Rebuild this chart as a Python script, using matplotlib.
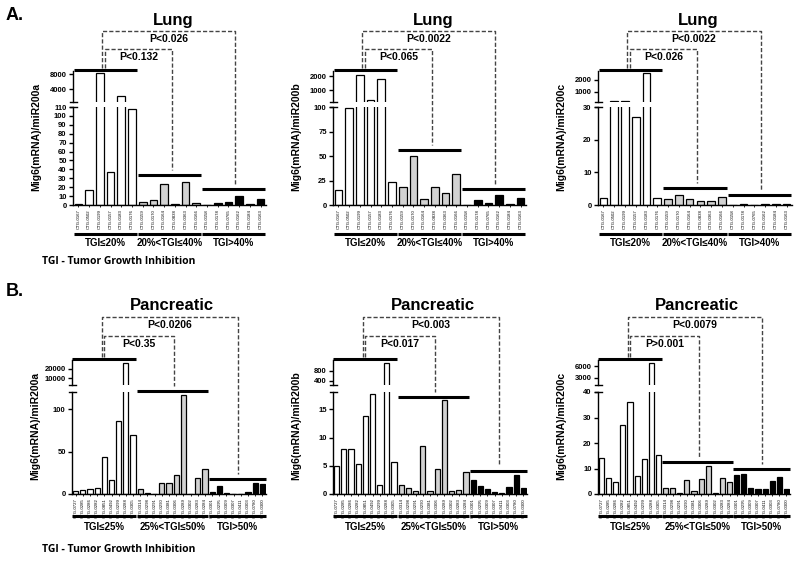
import matplotlib
matplotlib.use('Agg')
import matplotlib.pyplot as plt
from matplotlib.transforms import blended_transform_factory

plt.rcParams['font.family'] = ['Liberation Sans', 'DejaVu Sans']

# ---- data ----
lung_groups = ['TGI≤20%', '20%<TGI≤40%', 'TGI>40%']
panc_groups = ['TGI≤25%', '25%<TGI≤50%', 'TGI>50%']

lung_models = [['CTG-0167', 'CTG-0502', 'CTG-0199', 'CTG-0157', 'CTG-0183', 'CTG-0176'],
               ['CTG-0159', 'CTG-0170', 'CTG-0164', 'CTG-0838', 'CTG-0363', 'CTG-0166'],
               ['CTG-0158', 'CTG-0178', 'CTG-0765', 'CTG-0162', 'CTG-0184', 'CTG-0163']]
panc_models = [['CTG-0727', 'CTG-0285', 'CTG-0286', 'CTG-0282', 'CTG-0851', 'CTG-0492',
                'CTG-0299', 'CTG-0288', 'CTG-0305'],
               ['CTG-0314', 'CTG-0298', 'CTG-0291', 'CTG-0290', 'CTG-0381', 'CTG-0306',
                'CTG-0289', 'CTG-0302', 'CTG-0283', 'CTG-0284'],
               ['CTG-0301', 'CTG-0295', 'CTG-0309', 'CTG-0307', 'CTG-0411', 'CTG-0303',
                'CTG-0780', 'CTG-0300']]

lung_mir200a = [[1, 17, 8300, 37, 2100, 108],
                [3.5, 5.5, 24, 1.5, 26, 2],
                [0.3, 2, 3, 10, 1, 7]]
lung_mir200b = [[15, 99, 2100, 330, 1800, 23],
                [18.5, 50, 6, 18.5, 12.5, 32],
                [0.5, 4.6, 2, 9.9, 1, 6.9]]
lung_mir200c = [[2, 200, 250, 27, 2560, 2.1],
                [1.7, 3.2, 1.9, 1.1, 1.1, 2.3],
                [0.1, 0.2, 0.1, 0.4, 0.3, 0.3]]

panc_mir200a = [[4, 4.8, 6, 7.5, 43, 16, 86, 26000, 69],
                [6.3, 1.6, 0.4, 13, 13, 21.8, 117, 0.3, 18.7, 29.8],
                [2.4, 9.5, 1.2, 0.2, 0.2, 2.8, 12.7, 12.3]]
panc_mir200b = [[4.9, 7.9, 7.95, 5.3, 13.9, 17.7, 1.55, 1100, 5.6],
                [1.55, 1.1, 0.5, 8.5, 0.55, 4.5, 16.6, 0.5, 0.65, 3.9],
                [2.4, 1.45, 0.8, 0.35, 0.25, 1.3, 3.4, 1.15]]
panc_mir200c = [[14, 6.3, 4.7, 26.9, 36, 6.9, 13.7, 6900, 15.2],
                [2.4, 2.5, 0.4, 5.3, 1.2, 5.7, 10.8, 0.4, 6.1, 4.9],
                [7.6, 8, 2.3, 2.1, 1.9, 5.1, 6.7, 1.9]]

lung_p200a = ['P<0.132', 'P<0.026']
lung_p200b = ['P<0.065', 'P<0.0022']
lung_p200c = ['P<0.026', 'P<0.0022']
panc_p200a = ['P<0.35', 'P<0.0206']
panc_p200b = ['P<0.017', 'P<0.003']
panc_p200c = ['P>0.001', 'P<0.0079']

group_colors = ['white', '#d2d2d2', 'black']

W, H = 800, 561
fig = plt.figure(figsize=(W / 100, H / 100), dpi=100)


def fy(py):
    return 1 - py / H


def rect(x0, x1, top, bottom):
    return [x0 / W, 1 - bottom / H, (x1 - x0) / W, (bottom - top) / H]


def style_ticks(a):
    a.patch.set_visible(False)
    a.tick_params(axis='y', direction='out', length=3, width=1, pad=1.5, labelsize=5.5)
    for lab in a.get_yticklabels():
        lab.set_fontweight('bold')
    for s in ['top', 'right']:
        a.spines[s].set_visible(False)
    for s in ['left', 'bottom']:
        a.spines[s].set_linewidth(1)


def draw_panel(models, values, groups, pvals, ylabel, title, lay):
    names = [m for g in models for m in g]
    vals = [v for g in values for v in g]
    cols = [group_colors[i] for i, g in enumerate(values) for _ in g]
    n = len(vals)
    xs = list(range(n))
    starts, ends = [], []
    k = 0
    for g in values:
        starts.append(k)
        ends.append(k + len(g) - 1)
        k += len(g)
    centers = [(s + e) / 2 for s, e in zip(starts, ends)]

    x0, x1 = lay['x']
    ax = fig.add_axes(rect(x0, x1, *lay['low']))
    ax.bar(xs, vals, width=0.72, color=cols, edgecolor='black', linewidth=0.9)
    ax.set_xlim(-0.5, n - 0.5)
    ax.set_ylim(*lay['low_ylim'])
    ax.set_yticks(lay['low_ticks'])
    ax.set_xticks(xs)
    ax.set_xticklabels(names, rotation=90, fontsize=3.1)
    ax.tick_params(axis='x', length=1.5, width=0.6, pad=1.5)
    style_ticks(ax)

    axu = fig.add_axes(rect(x0, x1, *lay['up']))
    axu.bar(xs, vals, width=0.72, color=cols, edgecolor='black', linewidth=0.9)
    axu.set_xlim(-0.5, n - 0.5)
    axu.set_ylim(*lay['up_ylim'])
    axu.set_yticks(lay['up_ticks'])
    axu.set_xticks([])
    style_ticks(axu)
    axu.spines['bottom'].set_visible(False)

    # break marks on the y axis
    w = 3.5 / (x1 - x0)
    axu.plot([-w, w], [0, 0], transform=axu.transAxes, color='black', lw=1, clip_on=False)
    ax.plot([-w, w], [1, 1], transform=ax.transAxes, color='black', lw=1, clip_on=False)

    tr = blended_transform_factory(ax.transData, fig.transFigure)

    # group bars above the data and under the tick labels
    for gi in range(3):
        gy = lay['group_y'][gi]
        ax.plot([starts[gi] - 0.45, ends[gi] + 0.45], [fy(gy), fy(gy)], transform=tr,
                color='black', lw=2.2, clip_on=False, solid_capstyle='butt')
        ly = lay['label_line']
        ax.plot([starts[gi] - 0.45, ends[gi] + 0.45], [fy(ly), fy(ly)], transform=tr,
                color='black', lw=2.2, clip_on=False, solid_capstyle='butt')
        ax.text(centers[gi], fy(lay['label_y']), groups[gi], transform=tr,
                ha='center', va='center', fontsize=7, fontweight='bold')

    # dashed comparison brackets
    gy = lay['group_y']
    inner_top, outer_top = lay['brackets']
    specs = [(centers[0], centers[1] + 0.2, inner_top, gy[1] - 5, pvals[0]),
             (centers[0] - 0.3, centers[2] + 0.1, outer_top, gy[2] - 5, pvals[1])]
    for lx, rx, top, rb, ptxt in specs:
        ax.plot([lx, lx, rx, rx], [fy(gy[0] - 2), fy(top), fy(top), fy(rb)], transform=tr,
                color='#444444', lw=1, ls=(0, (3, 1.5)), clip_on=False)
        ax.text((lx + rx) / 2, fy(top + 8), ptxt, transform=tr, ha='center', va='center',
                fontsize=7.5, fontweight='bold')

    fig.text((x0 + x1) / 2 / W + 0.004, fy(lay['title_y']), title, ha='center', va='center',
             fontsize=12, fontweight='bold')
    fig.text((x0 - 37) / W, fy(lay['ylabel_y']), ylabel, rotation=90, ha='center',
             va='center', fontsize=7.5, fontweight='bold')


row_a = dict(low=(107, 205), up=(71, 102), label_line=234, label_y=243,
             brackets=(49, 31), title_y=20, ylabel_y=137)
row_b = dict(low=(392, 494), up=(360, 385), label_line=516, label_y=527,
             brackets=(336, 317), title_y=305, ylabel_y=426)

draw_panel(lung_models, lung_mir200a, lung_groups, lung_p200a, 'Mig6(mRNA)/miR200a', 'Lung',
           dict(row_a, x=(73, 266), low_ylim=(0, 110), low_ticks=list(range(0, 111, 10)),
                up_ylim=(610, 8880), up_ticks=[4000, 8000], group_y=(70, 175, 189)))
draw_panel(lung_models, lung_mir200b, lung_groups, lung_p200b, 'Mig6(mRNA)/miR200b', 'Lung',
           dict(row_a, x=(333, 526), low_ylim=(0, 100), low_ticks=[0, 25, 50, 75, 100],
                up_ylim=(160, 2380), up_ticks=[1000, 2000], group_y=(70, 150, 189)))
draw_panel(lung_models, lung_mir200c, lung_groups, lung_p200c, 'Mig6(mRNA)/miR200c', 'Lung',
           dict(row_a, x=(598, 792), low_ylim=(0, 30), low_ticks=[0, 10, 20, 30],
                up_ylim=(150, 2700), up_ticks=[1000, 2000], group_y=(70, 188, 195)))

draw_panel(panc_models, panc_mir200a, panc_groups, panc_p200a, 'Mig6(mRNA)/miR200a', 'Pancreatic',
           dict(row_b, x=(72, 266), low_ylim=(0, 120), low_ticks=[0, 50, 100],
                up_ylim=(2500, 29400), up_ticks=[10000, 20000], group_y=(359, 391, 479)))
draw_panel(panc_models, panc_mir200b, panc_groups, panc_p200b, 'Mig6(mRNA)/miR200b', 'Pancreatic',
           dict(row_b, x=(333, 527), low_ylim=(0, 18.1), low_ticks=[0, 5, 10, 15],
                up_ylim=(240, 1230), up_ticks=[400, 800], group_y=(359, 397, 471)))
draw_panel(panc_models, panc_mir200c, panc_groups, panc_p200c, 'Mig6(mRNA)/miR200c', 'Pancreatic',
           dict(row_b, x=(598, 790), low_ylim=(0, 40), low_ticks=[0, 10, 20, 30, 40],
                up_ylim=(1000, 7700), up_ticks=[3000, 6000], group_y=(359, 462, 469)))

for lab, py in [('A.', 15), ('B.', 292)]:
    fig.text(6 / W, fy(py), lab, ha='left', va='center', fontsize=13, fontweight='bold')
for py in [262, 549]:
    fig.text(42 / W, fy(py), 'TGI - Tumor Growth Inhibition', ha='left', va='center',
             fontsize=7.5, fontweight='bold', family=['Open Sans', 'DejaVu Sans'])

fig.savefig('out.png', dpi=100)
